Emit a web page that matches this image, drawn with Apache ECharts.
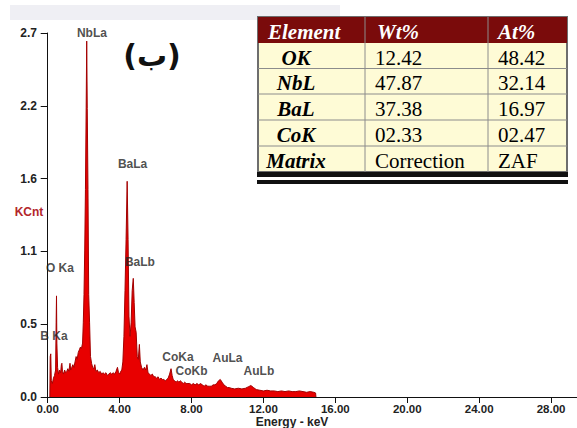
<!DOCTYPE html>
<html>
<head>
<meta charset="utf-8">
<script src="https://cdn.jsdelivr.net/npm/echarts@6/dist/echarts.min.js"></script>
<style>
  html, body { margin: 0; padding: 0; background: #fff; }
  #chart { width: 577px; height: 428px; }
</style>
</head>
<body>
<div id="chart"></div>
<script>
// spectrum: energy (keV) and counts (KCnt)
const energy = [
  0.12, 0.14, 0.17, 0.20, 0.26, 0.32, 0.38, 0.44, 0.47, 0.49, 0.51, 0.55, 0.60, 0.66, 0.72, 0.76, 0.79, 0.82, 0.88, 0.94,
  1.00, 1.06, 1.12, 1.18, 1.24, 1.28, 1.34, 1.40, 1.46, 1.52, 1.58, 1.64, 1.70, 1.76, 1.82, 1.88, 1.94, 1.98,
  2.02, 2.06, 2.10, 2.14, 2.17, 2.20, 2.24, 2.28, 2.33, 2.38, 2.44, 2.50, 2.56, 2.62, 2.68, 2.76, 2.84, 2.92,
  3.00, 3.08, 3.16, 3.24, 3.32, 3.40, 3.48, 3.56, 3.64, 3.72, 3.80, 3.88, 3.94,
  4.00, 4.06, 4.12, 4.18, 4.24, 4.30, 4.36, 4.42, 4.47, 4.52, 4.58, 4.64, 4.70, 4.76, 4.81, 4.86, 4.92, 4.98,
  5.04, 5.10, 5.15, 5.22, 5.30, 5.38, 5.45, 5.52, 5.58, 5.66, 5.74, 5.82, 5.90, 5.98,
  6.06, 6.14, 6.22, 6.30, 6.38, 6.46, 6.54, 6.62, 6.70, 6.78, 6.86, 6.92, 6.98,
  7.06, 7.14, 7.22, 7.30, 7.38, 7.46, 7.54, 7.62, 7.70, 7.80, 7.90,
  8.00, 8.10, 8.20, 8.30, 8.40, 8.50, 8.60, 8.70, 8.80, 8.90,
  9.00, 9.10, 9.20, 9.30, 9.40, 9.50, 9.60, 9.70, 9.80, 9.90,
  10.00, 10.10, 10.20, 10.40, 10.60, 10.80, 11.00, 11.15, 11.30, 11.45, 11.60, 11.80,
  12.00, 12.20, 12.40, 12.60, 12.80, 13.00, 13.20, 13.40, 13.60, 13.80,
  14.00, 14.20, 14.40, 14.60, 14.80, 14.90, 14.92
];
const kcnt = [
  0, 0.30, 0.32, 0.12, 0.10, 0.14, 0.16, 0.20, 0.55, 0.75, 0.40, 0.22, 0.17, 0.20, 0.18, 0.24, 0.25, 0.19, 0.17, 0.20,
  0.18, 0.19, 0.21, 0.19, 0.25, 0.20, 0.22, 0.24, 0.22, 0.26, 0.30, 0.28, 0.33, 0.35, 0.37, 0.36, 0.40, 0.55,
  0.76, 1.09, 1.54, 2.15, 2.64, 2.14, 1.54, 0.76, 0.55, 0.30, 0.25, 0.22, 0.21, 0.24, 0.19, 0.20, 0.18, 0.19,
  0.17, 0.18, 0.17, 0.18, 0.16, 0.17, 0.18, 0.17, 0.18, 0.17, 0.19, 0.22, 0.18,
  0.17, 0.19, 0.20, 0.26, 0.45, 0.79, 1.17, 1.60, 1.17, 0.60, 0.45, 0.55, 0.79, 0.88, 0.70, 0.52, 0.48, 0.30,
  0.28, 0.39, 0.26, 0.22, 0.20, 0.22, 0.20, 0.24, 0.18, 0.17, 0.16, 0.17, 0.15, 0.15,
  0.14, 0.15, 0.13, 0.14, 0.13, 0.13, 0.12, 0.13, 0.14, 0.17, 0.21, 0.16, 0.13,
  0.12, 0.11, 0.12, 0.11, 0.12, 0.11, 0.10, 0.11, 0.10, 0.10, 0.10,
  0.09, 0.10, 0.09, 0.10, 0.09, 0.10, 0.09, 0.08, 0.09, 0.08,
  0.08, 0.08, 0.09, 0.09, 0.10, 0.12, 0.13, 0.11, 0.09, 0.08,
  0.07, 0.07, 0.065, 0.06, 0.065, 0.06, 0.065, 0.075, 0.085, 0.07, 0.055, 0.05,
  0.045, 0.05, 0.045, 0.045, 0.04, 0.045, 0.04, 0.045, 0.04, 0.04,
  0.045, 0.04, 0.035, 0.04, 0.035, 0.03, 0
];

// peak labels: name and where the label sits (keV, KCnt)
const peakNames = ['NbLa', 'BaLa', 'BaLb', 'O Ka', 'B Ka', 'CoKa', 'CoKb', 'AuLa', 'AuLb'];
const peakLabelE = [2.46, 4.72, 5.13, 0.68, 0.35, 7.25, 8.00, 10.00, 11.75];
const peakLabelY = [2.70, 1.73, 1.00, 0.96, 0.45, 0.30, 0.19, 0.29, 0.19];

const xTicks = [0, 4, 8, 12, 16, 20, 24, 28];

// quantification table
const tableHeader = ['Element', 'Wt%', 'At%'];
const tableElements = ['OK', 'NbL', 'BaL', 'CoK', 'Matrix'];
const tableWt = ['12.42', '47.87', '37.38', '02.33', 'Correction'];
const tableAt = ['48.42', '32.14', '16.97', '02.47', 'ZAF'];

const chart = echarts.init(document.getElementById('chart'), null, { renderer: 'svg' });

const serif = '"Liberation Serif", "Times New Roman", serif';
const sans = '"Liberation Sans", Arial, sans-serif';

// table layout
const colX = [258, 365, 488, 567];
const rowY = [17, 43, 68.5, 94, 120, 146, 172];
const table = [];
table.push({ type: 'rect', shape: { x: colX[0], y: rowY[0], width: colX[3] - colX[0], height: rowY[6] - rowY[0] },
  style: { fill: '#fefbd6', stroke: '#6e6e6e', lineWidth: 2 }, z: 10 });
table.push({ type: 'rect', shape: { x: colX[0], y: rowY[0], width: colX[3] - colX[0], height: rowY[1] - rowY[0] },
  style: { fill: '#7a0b0b' }, z: 11 });
for (let i = 2; i < rowY.length - 1; i++) {
  table.push({ type: 'line', shape: { x1: colX[0], y1: rowY[i], x2: colX[3], y2: rowY[i] },
    style: { stroke: '#8c8c8c', lineWidth: 1 }, z: 11 });
}
[1, 2].forEach(c => {
  table.push({ type: 'line', shape: { x1: colX[c], y1: rowY[0], x2: colX[c], y2: rowY[6] },
    style: { stroke: '#8c8c8c', lineWidth: 1 }, z: 12 });
});
table.push({ type: 'rect', shape: { x: colX[0] - 1, y: rowY[6], width: colX[3] - colX[0] + 2, height: 5 },
  style: { fill: '#111' }, z: 12 });
table.push({ type: 'rect', shape: { x: colX[0] - 1, y: 180, width: colX[3] - colX[0] + 2, height: 4 },
  style: { fill: '#111' }, z: 12 });

const txt = (text, x, y, font, fill, align) => ({
  type: 'text', x: x, y: y, z: 13,
  style: { text: text, font: font, fill: fill, align: align, verticalAlign: 'middle',
    textAlign: align, textVerticalAlign: 'middle' }
});
const hx = [268, 377, 498];
tableHeader.forEach((h, i) => {
  table.push(txt(h, hx[i], (rowY[0] + rowY[1]) / 2 + 2, 'italic bold 21px ' + serif, '#fff', 'left'));
});
tableElements.forEach((el, r) => {
  const cy = (rowY[r + 1] + rowY[r + 2]) / 2 + 2;
  table.push(txt(el, 296, cy, 'italic bold 21px ' + serif, '#000', 'center'));
  table.push(txt(tableWt[r], 375, cy, '21px ' + serif, '#000', 'left'));
  table.push(txt(tableAt[r], 498, cy, '21px ' + serif, '#000', 'left'));
});

chart.setOption({
  backgroundColor: '#fff',
  animation: false,
  grid: { left: 45, right: 0, top: 33, bottom: 31, containLabel: false, outerBoundsMode: 'none' },
  xAxis: {
    type: 'value',
    min: -0.15,
    max: 29.44,
    axisLine: { lineStyle: { color: '#111', width: 1 } },
    axisTick: { length: 6, lineStyle: { color: '#111' }, customValues: xTicks },
    axisLabel: { customValues: xTicks, margin: 6, color: '#222', fontWeight: 'bold', fontSize: 11.5,
      fontFamily: sans, formatter: v => v.toFixed(2) },
    splitLine: { show: false }
  },
  yAxis: {
    type: 'value',
    min: 0,
    max: 2.7,
    interval: 0.54,
    axisLine: { show: true, lineStyle: { color: '#111', width: 1 } },
    axisTick: { show: true, length: 7, lineStyle: { color: '#111' } },
    axisLabel: { margin: 8, color: '#222', fontWeight: 'bold', fontSize: 12, fontFamily: sans,
      formatter: v => v.toFixed(1) },
    splitLine: { show: false }
  },
  graphic: [
    { type: 'rect', shape: { x: 10, y: 5, width: 330, height: 15 }, style: { fill: '#efeff4' }, z: 1 },
    { type: 'text', x: 152, y: 55, z: 5,
      style: { text: '(ب)', font: 'bold 30px "DejaVu Sans"', fill: '#111', align: 'center', verticalAlign: 'middle',
        textAlign: 'center', textVerticalAlign: 'middle' } },
    { type: 'text', x: 29, y: 212, z: 5,
      style: { text: 'KCnt', font: 'bold 12px ' + sans, fill: '#b3262b', align: 'center', verticalAlign: 'middle',
        textAlign: 'center', textVerticalAlign: 'middle' } },
    { type: 'text', x: 292, y: 422, z: 5,
      style: { text: 'Energy - keV', font: 'bold 12px ' + sans, fill: '#222', align: 'center', verticalAlign: 'middle',
        textAlign: 'center', textVerticalAlign: 'middle' } }
  ].concat(table),
  series: [
    {
      type: 'line',
      data: energy.map((e, i) => [e, kcnt[i]]),
      symbol: 'none',
      lineStyle: { color: '#a30000', width: 1 },
      areaStyle: { color: '#e80000', opacity: 1 },
      z: 2
    },
    {
      type: 'scatter',
      data: peakNames.map((n, i) => ({ name: n, value: [peakLabelE[i], peakLabelY[i]] })),
      symbolSize: 1,
      itemStyle: { color: 'transparent' },
      label: { show: true, position: 'inside', formatter: '{b}', color: '#222', fontWeight: 'bold',
        fontSize: 12, fontFamily: sans },
      z: 3
    }
  ]
});
</script>
</body>
</html>
